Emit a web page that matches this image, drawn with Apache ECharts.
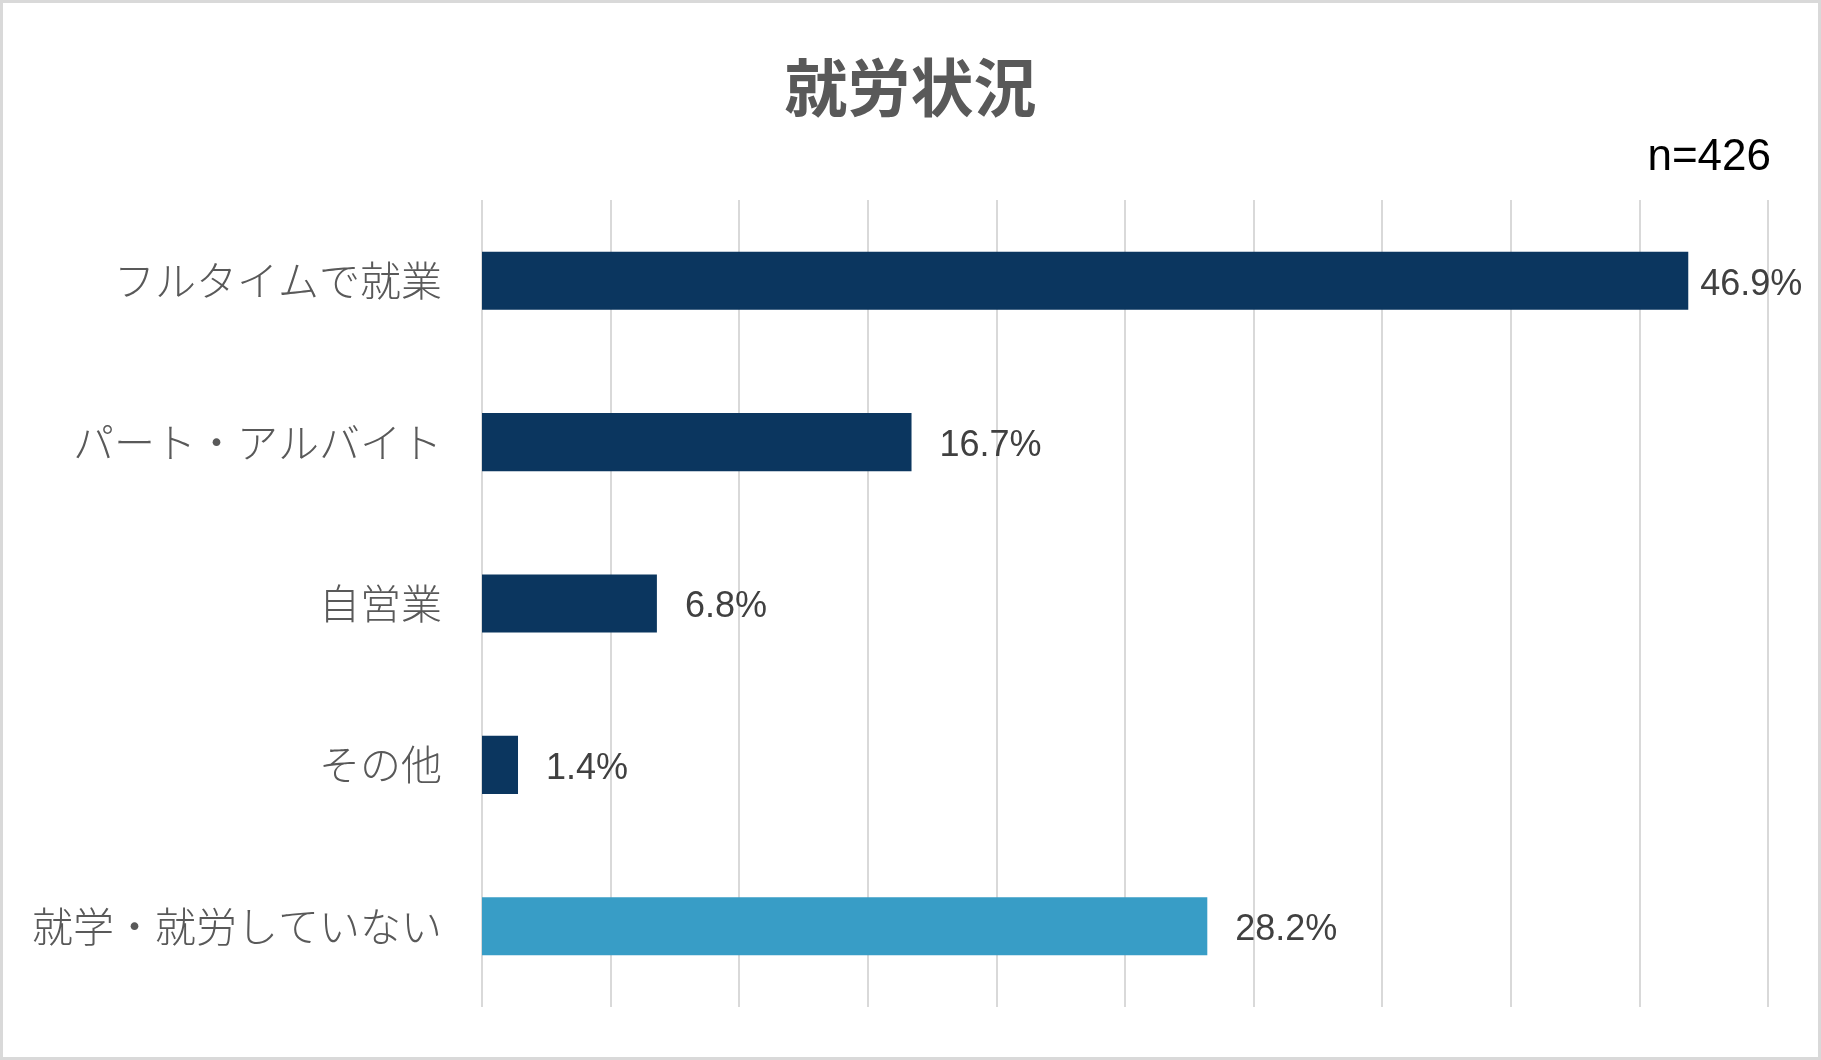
<!DOCTYPE html>
<html>
<head>
<meta charset="utf-8">
<script src="https://cdn.jsdelivr.net/npm/echarts@6/dist/echarts.min.js"></script>
<style>
  html, body { margin: 0; padding: 0; background: #fff; }
  #chart { width: 1821px; height: 1060px; }
</style>
</head>
<body>
<div id="chart"></div>
<script>
// data
const categories = ["フルタイムで就業", "パート・アルバイト", "自営業", "その他", "就学・就労していない"];
const values = [46.9, 16.7, 6.8, 1.4, 28.2];
const barColors = ["#0b365f", "#0b365f", "#0b365f", "#0b365f", "#389dc6"];

let chart = echarts.init(document.getElementById("chart"));

let jpFont = "'Noto Sans CJK JP', 'Noto Sans', sans-serif";
let numFont = "'Liberation Sans', Arial, sans-serif";

let option = {
  backgroundColor: "#fff",
  animation: false,
  title: [
    {
      text: "就労状況",
      left: "center",
      top: 51,
      textStyle: { fontSize: 63, fontWeight: "bold", color: "#595959", fontFamily: jpFont }
    },
    {
      text: "n=426",
      right: 45,
      top: 131,
      textStyle: { fontSize: 44, fontWeight: "normal", color: "#000", fontFamily: numFont }
    }
  ],
  grid: { left: 482, right: 53, top: 200, bottom: 53, containLabel: false },
  xAxis: {
    type: "value",
    min: 0,
    max: 50,
    interval: 5,
    axisLabel: { show: false },
    axisLine: { show: false },
    axisTick: { show: false },
    splitLine: { show: true, lineStyle: { color: "#d9d9d9", width: 2 } }
  },
  yAxis: {
    type: "category",
    inverse: true,
    data: categories,
    axisLine: { show: false },
    axisTick: { show: false },
    axisLabel: { margin: 40, fontSize: 41, color: "#595959", fontFamily: jpFont, fontWeight: 300 }
  },
  series: [
    {
      type: "bar",
      barWidth: "36%",
      data: values.map(function(v, i) {
        let item = { value: v, itemStyle: { color: barColors[i] } };
        if (i === 0) item.label = { distance: 12 };
        return item;
      }),
      label: {
        show: true,
        position: "right",
        distance: 28,
        offset: [0, 4],
        fontSize: 36,
        color: "#404040",
        fontFamily: numFont,
        formatter: function(p) { return p.value.toFixed(1) + "%"; }
      }
    }
  ],
  graphic: [
    {
      type: "rect",
      shape: { x: 1.5, y: 1.5, width: 1818, height: 1057 },
      style: { fill: "none", stroke: "#d9d9d9", lineWidth: 3 },
      silent: true
    }
  ]
};

chart.setOption(option);
</script>
</body>
</html>
